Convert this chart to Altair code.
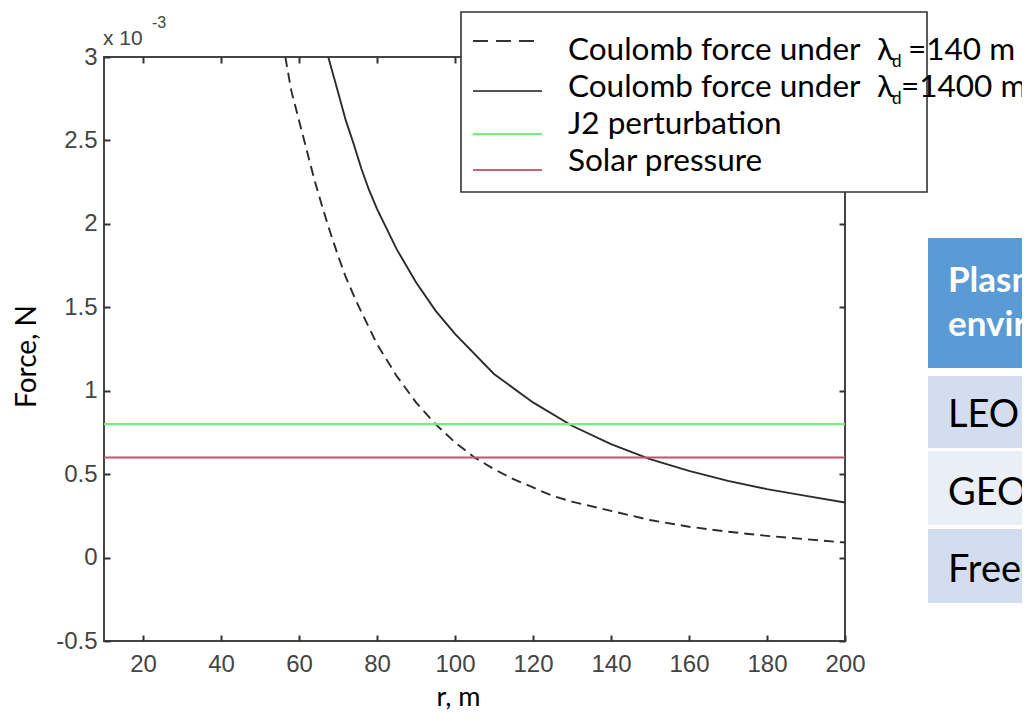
import altair as alt
import pandas as pd

# ---- data (force in units of 1e-3 N) ----
r_dash = [56.5, 58, 60, 62, 64, 66, 68, 70, 72, 75, 80, 85, 90, 95, 100, 105,
          110, 115, 120, 125, 130, 140, 150, 160, 170, 180, 190, 200]
f_dash = [3.00, 2.80, 2.62, 2.44, 2.26, 2.10, 1.95, 1.81, 1.68, 1.52, 1.28, 1.09,
          0.93, 0.80, 0.69, 0.60, 0.53, 0.47, 0.42, 0.37, 0.335, 0.28, 0.225,
          0.185, 0.155, 0.13, 0.11, 0.09]
r_solid = [67.5, 70, 72, 74, 76, 78, 80, 85, 90, 95, 100, 110, 120, 130, 140,
           150, 160, 170, 180, 190, 200]
f_solid = [3.00, 2.79, 2.62, 2.48, 2.33, 2.20, 2.09, 1.85, 1.65, 1.48, 1.34,
           1.10, 0.93, 0.79, 0.68, 0.59, 0.52, 0.46, 0.41, 0.37, 0.33]
r_span = [10, 200]
f_j2 = [0.8, 0.8]
f_solar = [0.6, 0.6]

x_ticks = [20, 40, 60, 80, 100, 120, 140, 160, 180, 200]
y_ticks = [-0.5, 0, 0.5, 1, 1.5, 2, 2.5, 3]

legend_labels = ["Coulomb force under", "Coulomb force under",
                 "J2 perturbation", "Solar pressure"]
legend_tails = ["=140 m", "=1400 m"]
table_rows = ["Plasma", "environment", "LEO", "GEO", "Free space"]

W, H = 741, 584
xs = alt.Scale(domain=[10, 200], nice=False, zero=False)
ys = alt.Scale(domain=[-0.5, 3], nice=False, zero=False)

tick_common = dict(offset=-6, tickSize=6, domain=False, grid=False,
                   tickColor="#333333", tickWidth=2)
lab_common = dict(labelFont="Liberation Sans", labelFontSize=24,
                  labelColor="#444444", labelFlush=False, labelOverlap=False)

ax_bottom = alt.Axis(orient="bottom", values=x_ticks, labelPadding=11,
                     title="r, m", titleFont="Lato", titleFontSize=27,
                     titleFontWeight="normal", titleColor="black",
                     titleX=354, titleY=70, titleAlign="center",
                     titleBaseline="alphabetic", **tick_common, **lab_common)
ax_left = alt.Axis(orient="left", values=y_ticks, labelPadding=7,
                   labelExpr="datum.value < 0 ? '-' + format(-datum.value, '~g') : format(datum.value, '~g')",
                   title="Force, N", titleFont="Lato", titleFontSize=28,
                   titleFontWeight="normal", titleColor="black",
                   titleX=-83, titleY=299, titleAngle=270, titleAlign="center",
                   titleBaseline="middle", **tick_common, **lab_common)
ax_top = alt.Axis(orient="top", values=x_ticks, labels=False, title=None, **tick_common)
ax_right = alt.Axis(orient="right", values=y_ticks, labels=False, title=None, **tick_common)

df_dash = pd.DataFrame({"r": r_dash, "F": f_dash})
df_solid = pd.DataFrame({"r": r_solid, "F": f_solid})
df_j2 = pd.DataFrame({"r": r_span, "F": f_j2})
df_solar = pd.DataFrame({"r": r_span, "F": f_solar})

dash = alt.Chart(df_dash).mark_line(color="#2b2b2b", strokeWidth=1.9,
                                    strokeDash=[10, 6], clip=True).encode(
    x=alt.X("r:Q", scale=xs, axis=ax_bottom),
    y=alt.Y("F:Q", scale=ys, axis=ax_left))
solid = alt.Chart(df_solid).mark_line(color="#2b2b2b", strokeWidth=1.9, clip=True).encode(
    x=alt.X("r:Q", scale=xs, axis=ax_top),
    y=alt.Y("F:Q", scale=ys, axis=ax_right))
j2 = alt.Chart(df_j2).mark_line(color="#77ee77", strokeWidth=2.2).encode(
    x=alt.X("r:Q", scale=xs, axis=None),
    y=alt.Y("F:Q", scale=ys, axis=None))
solar = alt.Chart(df_solar).mark_line(color="#c8506e", strokeWidth=2).encode(
    x=alt.X("r:Q", scale=xs, axis=None),
    y=alt.Y("F:Q", scale=ys, axis=None))

one = pd.DataFrame({"k": [0]})


def txt(s, x, y, size, font="Lato", color="black", weight="normal"):
    return alt.Chart(one).mark_text(text=s, align="left", baseline="alphabetic",
                                    font=font, fontSize=size, color=color,
                                    fontWeight=weight).encode(
        x=alt.value(x), y=alt.value(y))


def box(x, x2, y, y2, fill, stroke=None):
    kw = dict(fill=fill)
    if stroke:
        kw.update(stroke=stroke, strokeWidth=1.6)
    return alt.Chart(one).mark_rect(**kw).encode(
        x=alt.value(x), x2=alt.value(x2), y=alt.value(y), y2=alt.value(y2))


def seg(x, x2, y, color, dashpat=None, width=2):
    kw = dict(color=color, strokeWidth=width)
    if dashpat:
        kw.update(strokeDash=dashpat)
    return alt.Chart(one).mark_rule(**kw).encode(
        x=alt.value(x), x2=alt.value(x2), y=alt.value(y))


layers = [dash, solid, j2, solar]

# exponent label
layers += [txt("x 10", -1, -12, 21, font="Liberation Sans", color="#444444"),
           txt("-3", 48, -29, 16, font="Liberation Sans", color="#444444")]

# legend
layers += [box(357, 823, -45, 135, "white", stroke="#333333"),
           seg(369, 438, -16, "#333333", dashpat=[15, 8]),
           seg(369, 438, 34, "#555555"),
           seg(369, 438, 77, "#77ee77"),
           seg(369, 438, 113, "#d0607a")]
lsize = 31.5
baselines = [3, 40, 77, 114]
for lab, b in zip(legend_labels, baselines):
    layers.append(txt(lab, 464, b, lsize))
for tail, b, tx in zip(legend_tails, baselines[:2], [804, 797]):
    layers.append(txt("λ", 773, b, lsize))
    layers.append(txt("d", 788, b + 7, 17))
    layers.append(txt(tail, tx, b, lsize))

# partial table at the right
layers += [box(824, 940, 181, 311, "#5b9bd5"),
           box(824, 940, 319, 391, "#d2deef"),
           box(824, 940, 394, 468, "#e9eef7"),
           box(824, 940, 472, 546, "#d2deef")]
layers += [txt(table_rows[0], 844, 235, 35, color="white", weight="bold"),
           txt(table_rows[1], 844, 279, 35, color="white", weight="bold"),
           txt(table_rows[2], 844, 370, 38),
           txt(table_rows[3], 844, 448, 38),
           txt(table_rows[4], 844, 525, 38)]

chart = alt.layer(*layers).resolve_axis(x="independent", y="independent").properties(
    width=W, height=H,
    autosize=alt.AutoSizeParams(type="none"),
    padding={"left": 96, "top": 49, "right": 177, "bottom": 70},
    background="white",
).configure_view(stroke="#444444", strokeWidth=2)

chart.save("out.html", embed_options={"renderer": "svg", "actions": False})
